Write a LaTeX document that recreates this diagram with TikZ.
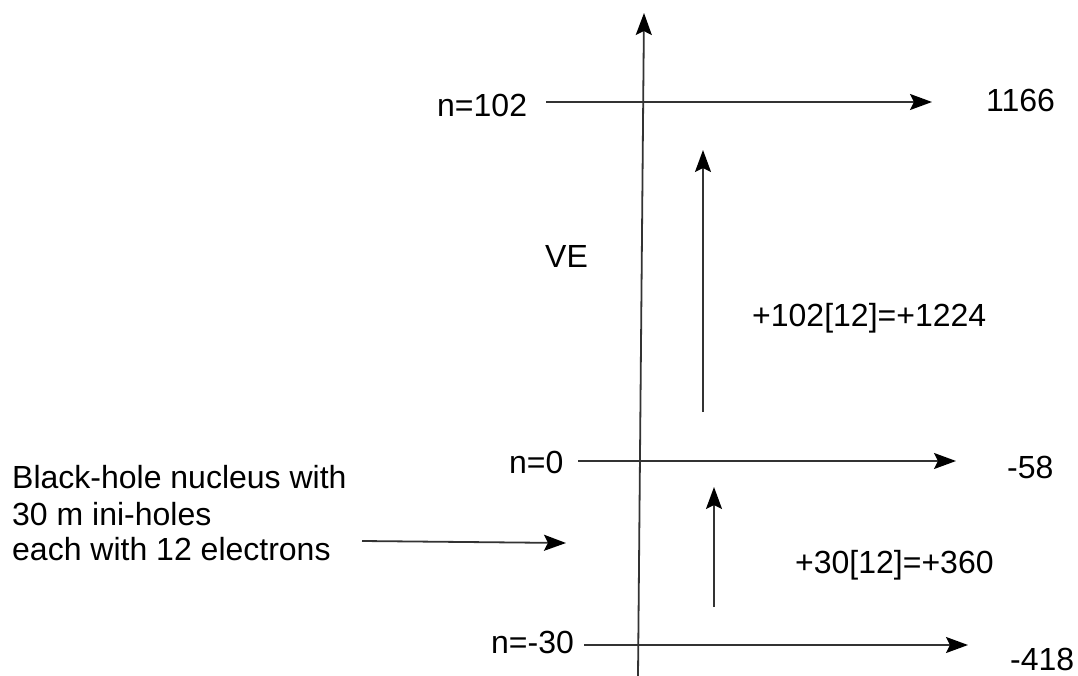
\documentclass[tikz,border=0pt]{standalone}
\usepackage{fontspec}
\setmainfont{Liberation Sans}
\usetikzlibrary{arrows.meta}
\tikzset{
  arr/.style={line width=1.8pt, draw=black!80, -{Stealth[length=22pt,width=16pt,inset=4pt,fill=black,color=black]}},
  lbl/.style={inner sep=0pt, anchor=base west, font=\fontsize{32}{36}\selectfont}
}
\begin{document}
\begin{tikzpicture}[x=1pt,y=-1pt]
\useasboundingbox (0,0) rectangle (1078,676);
% axis
\coordinate (axb) at (638,676);
\coordinate (axt) at (644,13);
\draw[arr] (axb) -- (axt);
% level lines
\coordinate (l1s) at (546,102); \coordinate (l1e) at (932,102);
\coordinate (l0s) at (578,461); \coordinate (l0e) at (956,461);
\coordinate (lms) at (584,645); \coordinate (lme) at (968,645);
\draw[arr] (l1s) -- (l1e);
\draw[arr] (l0s) -- (l0e);
\draw[arr] (lms) -- (lme);
% up arrows
\coordinate (u1s) at (703,412); \coordinate (u1e) at (703,150);
\coordinate (u2s) at (714,607); \coordinate (u2e) at (714,487);
\draw[arr] (u1s) -- (u1e);
\draw[arr] (u2s) -- (u2e);
% labels
\node[lbl] (n102) at (437,117) {n=102};
\node[lbl] (v1166) at (986,112) {1166};
\node[lbl] (ve) at (545,268) {VE};
\node[lbl] (d1) at (752,326) {+102[12]=+1224};
\node[lbl] (n0) at (509,473) {n=0};
\node[lbl] (v58) at (1007,478) {-58};
\node[lbl] (d2) at (795,573) {+30[12]=+360};
\node[lbl] (nm30) at (491,653) {n=-30};
\node[lbl] (v418) at (1010,670) {-418};
% left text
\node[lbl] (t1) at (12,488) {Black-hole nucleus with};
\node[lbl] (t2) at (12,525) {30 m ini-holes};
\node[lbl] (t3) at (12,560) {each with 12 electrons};
\coordinate (ls) at (362,541);
\coordinate (le) at (566,543);
\draw[arr] (ls) -- (le);
\end{tikzpicture}
\end{document}
